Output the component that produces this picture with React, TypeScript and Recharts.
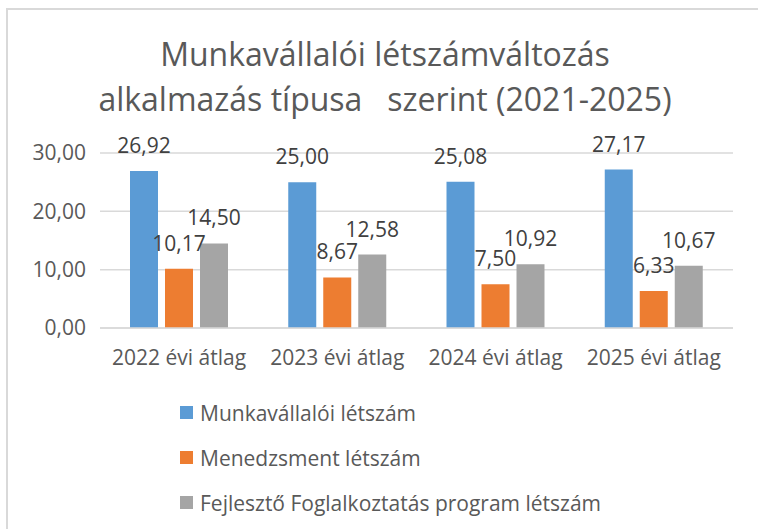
import React from 'react';
import { BarChart, Bar, XAxis, YAxis, CartesianGrid, Legend, LabelList } from 'recharts';

const categories = ['2022 évi átlag', '2023 évi átlag', '2024 évi átlag', '2025 évi átlag'];
const munkavallaloi = [26.92, 25.0, 25.08, 27.17];
const menedzsment = [10.17, 8.67, 7.5, 6.33];
const fejleszto = [14.5, 12.58, 10.92, 10.67];
const seriesNames = ['Munkavállalói létszám', 'Menedzsment létszám', 'Fejlesztő Foglalkoztatás program létszám'];
const yTicks = [0, 10, 20, 30];

const FONT = '"Open Sans", sans-serif';
const fmt = (v: number) => v.toFixed(2).replace('.', ',');

const chartData = categories.map((name, i) => ({
  name,
  munka: munkavallaloi[i],
  menedzs: menedzsment[i],
  fejl: fejleszto[i],
}));

const LegendContent = ({ payload }: any) => {
  const items = [...(payload || [])].sort(
    (a: any, b: any) => seriesNames.indexOf(a.value) - seriesNames.indexOf(b.value)
  );
  return (
    <div style={{ fontFamily: FONT, fontSize: 21, color: '#595959' }}>
      {items.map((p: any) => (
        <div key={p.value} style={{ display: 'flex', alignItems: 'center', height: 45 }}>
          <span style={{ width: 13, height: 13, background: p.color, marginRight: 7, display: 'inline-block' }} />
          <span>{p.value}</span>
        </div>
      ))}
    </div>
  );
};

const App: React.FC = () => {
  return (
    <div style={{ position: 'absolute', left: 0, top: 0, width: 758, height: 529, background: '#fff', overflow: 'hidden' }}>
      <div
        style={{
          position: 'absolute', left: 6, top: 8, width: 800, height: 600,
          border: '2px solid #d9d9d9', boxSizing: 'border-box',
        }}
      />
      <div
        style={{
          position: 'absolute', left: 0, top: 31, width: 770, textAlign: 'center',
          fontFamily: FONT, fontSize: 32, lineHeight: '45px', color: '#595959', whiteSpace: 'pre',
        }}
      >
        <div>Munkavállalói létszámváltozás</div>
        <div>alkalmazás típusa   szerint (2021-2025)</div>
      </div>
      <div style={{ position: 'absolute', left: 0, top: 0 }}>
        <BarChart
          width={758}
          height={529}
          data={chartData}
          margin={{ top: 153, right: 25, bottom: 171, left: 10 }}
          barSize={28}
          barGap={7}
        >
          <CartesianGrid vertical={false} stroke="#d9d9d9" strokeWidth={1.5} />
          <XAxis
            dataKey="name"
            height={30}
            tickLine={false}
            axisLine={{ stroke: '#d9d9d9', strokeWidth: 1.5 }}
            tickSize={0}
            tickMargin={22}
            tick={{ fill: '#595959', fontSize: 21, fontFamily: FONT }}
            interval={0}
          />
          <YAxis
            width={90}
            domain={[0, 30]}
            ticks={yTicks}
            tickFormatter={fmt}
            tickLine={false}
            axisLine={false}
            tickSize={0}
            tickMargin={14}
            tick={{ fill: '#595959', fontSize: 21, fontFamily: FONT }}
          />
          <Legend
            layout="vertical"
            align="center"
            verticalAlign="middle"
            content={<LegendContent />}
            wrapperStyle={{ left: 180, top: 390, width: 500, height: 135 }}
          />
          <Bar dataKey="munka" name={seriesNames[0]} fill="#5B9BD5" isAnimationActive={false}>
            <LabelList dataKey="munka" position="top" offset={18} formatter={fmt} fill="#404040" fontSize={21} fontFamily={FONT} />
          </Bar>
          <Bar dataKey="menedzs" name={seriesNames[1]} fill="#ED7D31" isAnimationActive={false}>
            <LabelList dataKey="menedzs" position="top" offset={18} formatter={fmt} fill="#404040" fontSize={21} fontFamily={FONT} />
          </Bar>
          <Bar dataKey="fejl" name={seriesNames[2]} fill="#A5A5A5" isAnimationActive={false}>
            <LabelList dataKey="fejl" position="top" offset={18} formatter={fmt} fill="#404040" fontSize={21} fontFamily={FONT} />
          </Bar>
        </BarChart>
      </div>
    </div>
  );
};

export default App;
